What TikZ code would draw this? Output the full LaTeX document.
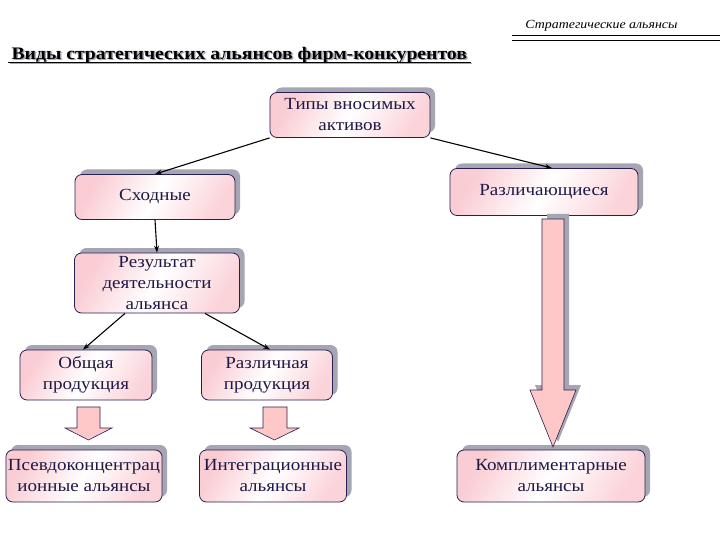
\documentclass[tikz,border=0pt]{standalone}
\usepackage{fontspec}
\setmainfont{Liberation Serif}
\newfontfamily\boxfont[FakeStretch=1.12]{Liberation Serif}
\usetikzlibrary{positioning,arrows.meta,shadows,calc}

\definecolor{boxpink}{RGB}{250,205,212}
\definecolor{boxline}{RGB}{40,30,80}
\definecolor{inknavy}{RGB}{30,25,70}
\definecolor{shadowgray}{RGB}{165,165,180}
\definecolor{arrowpink}{RGB}{255,200,200}

\tikzset{
  kind/.style={draw=boxline, line width=0.8pt, rounded corners=7pt,
    align=center, text=inknavy, inner sep=2pt,
    font=\boxfont\fontsize{17}{21}\selectfont,
    left color=boxpink, right color=boxpink!85, middle color=white,
    shading angle=60,
    drop shadow={shadow xshift=5pt, shadow yshift=5pt,
      fill=shadowgray, opacity=1}},
  link/.style={-{Stealth[length=7pt,width=5pt]}, line width=1.1pt},
  fat arrow/.style={draw=boxline, line width=0.6pt, fill=arrowpink},
  title font/.style={font=\boxfont\fontsize{17.6}{20}\selectfont\bfseries},
}

\begin{document}
\begin{tikzpicture}[x=1pt,y=-1pt]
	\useasboundingbox[fill=white] (0,0) rectangle (720,540);
	
	% header
	\node[font=\boxfont\itshape\fontsize{12.4}{15}\selectfont, anchor=east] (head)
	at (681,26) {Стратегические альянсы};
	\draw[line width=0.8pt] (512,35) -- (720,35);
	\draw[line width=0.8pt] (512,40) -- (720,40);
	
	% title with shadow
	\node[title font, text=shadowgray, anchor=west] at (9.5,56.5)
	{Виды стратегических альянсов фирм-конкурентов};
	\node[title font, anchor=west] (title) at (8,55)
	{Виды стратегических альянсов фирм-конкурентов};
	\draw[line width=1.3pt, shadowgray]
	($(title.base west)+(1.5,4.5)$) -- ($(title.base east)+(1.5,4.5)$);
	\draw[line width=1.3pt]
	($(title.base west)+(0,3)$) -- ($(title.base east)+(0,3)$);
	
	% boxes
	\node[kind, minimum width=160pt, minimum height=45pt] (types)
	at (350,115) {Типы вносимых\\активов};
	\node[kind, minimum width=160pt, minimum height=45pt] (similar)
	at (155,197) {Сходные};
	\node[kind, minimum width=188pt, minimum height=47pt] (different)
	at (544,192) {Различающиеся};
	\node[kind, minimum width=165pt, minimum height=60pt] (result)
	at (157,283) {Результат\\деятельности\\альянса};
	\node[kind, minimum width=132pt, minimum height=50pt] (common)
	at (86,375) {Общая\\продукция};
	\node[kind, minimum width=131pt, minimum height=50pt] (distinct)
	at (267,375) {Различная\\продукция};
	\node[kind, minimum width=152pt, minimum height=52pt] (pseudo)
	at (84,476) {Псевдоконцентрац\\ионные альянсы};
	\node[kind, minimum width=147pt, minimum height=52pt] (integr)
	at (273,476) {Интеграционные\\альянсы};
	\node[kind, minimum width=188pt, minimum height=52pt] (compl)
	at (551,476) {Комплиментарные\\альянсы};
	
	% links
	\draw[link] (types.south west) -- (similar.north);
	\draw[link] (types.south east) -- ($(different.north)+(8,0)$);
	\draw[link] (similar.south) -- (result.north);
	\draw[link] ($(result.south)+(-32,0)$) -- ($(common.north)+(-3,0)$);
	\draw[link] ($(result.south)+(48,0)$) -- ($(distinct.north)+(3,0)$);
	
	% big arrow with shadow
	\fill[shadowgray, shift={(5,-5)}]
	(542,219) -- (564,219) -- (564,390) -- (576,390) -- (553,447)
	-- (530,390) -- (542,390) -- cycle;
	\draw[fat arrow]
	(542,219) -- (564,219) -- (564,390) -- (576,390) -- (553,447)
	-- (530,390) -- (542,390) -- cycle;
	
	% small arrows
	\draw[fat arrow]
	(77,407) -- (100,407) -- (100,428) -- (112,428) -- (88.5,440)
	-- (65,428) -- (77,428) -- cycle;
	\draw[fat arrow]
	(263,407) -- (287,407) -- (287,428) -- (299,428) -- (274.5,440)
	-- (250,428) -- (263,428) -- cycle;
	
\end{tikzpicture}
\end{document}
